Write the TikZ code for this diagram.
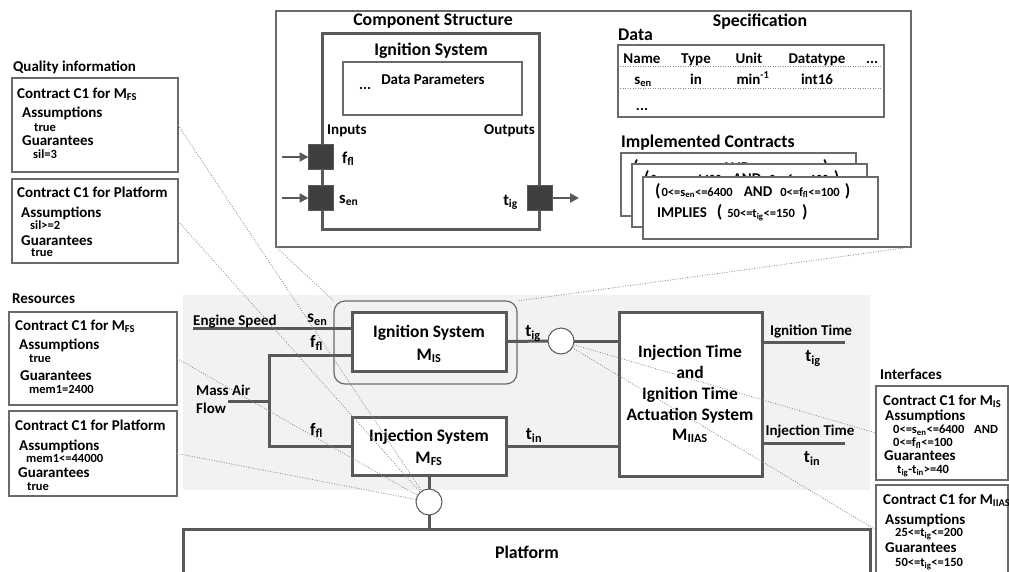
\documentclass[tikz,border=0pt]{standalone}
\usepackage{fontspec}
\setmainfont{Carlito}
\usetikzlibrary{arrows.meta}
\definecolor{dk}{HTML}{595959}
\definecolor{bx}{HTML}{6A6A6A}
\definecolor{bgc}{HTML}{F2F2F2}
\definecolor{dtc}{HTML}{8A8A8A}
\definecolor{portc}{HTML}{3F3F3F}
\newcommand\ctrlA{{\fontsize{17.5}{17.5}\selectfont(}\hspace{1pt}{\fontsize{12.5}{12.5}\selectfont 0<=s\textsubscript{en}<=6400}\hspace{11pt}AND\hspace{8pt}{\fontsize{12.5}{12.5}\selectfont 0<=f\textsubscript{fl}<=100}\hspace{5pt}{\fontsize{17.5}{17.5}\selectfont)}}
\newcommand\ctrlB{IMPLIES\hspace{10pt}{\fontsize{17.5}{17.5}\selectfont(}\hspace{5pt}{\fontsize{12.5}{12.5}\selectfont 50<=t\textsubscript{ig}<=150}\hspace{7pt}{\fontsize{17.5}{17.5}\selectfont)}}
\begin{document}
\begin{tikzpicture}[x=1pt,y=-1pt,
  lbl/.style={anchor=base west, inner sep=0pt, font=\fontsize{#1}{#1}\selectfont\bfseries},
  clbl/.style={anchor=base, inner sep=0pt, font=\fontsize{#1}{#1}\selectfont\bfseries},
  rlbl/.style={anchor=base east, inner sep=0pt, font=\fontsize{#1}{#1}\selectfont\bfseries},
  thinbox/.style={draw=bx, line width=1.3pt, fill=white, inner sep=0pt, outer sep=0pt, anchor=north west},
  thickbox/.style={draw=dk, line width=3pt, fill=white, inner sep=0pt, outer sep=0pt, anchor=north west},
  ring/.style={circle, draw=dk, line width=1pt, fill=white, minimum size=26pt, inner sep=0pt, outer sep=0pt},
  port/.style={fill=portc, draw=dk, line width=0.8pt, minimum size=25pt, inner sep=0pt, outer sep=0pt},
  wire/.style={draw=dk, line width=3pt},
  dots/.style={draw=dtc, line width=0.8pt, dash pattern=on 0.9pt off 1.6pt},
  arr/.style={draw=dk, line width=2.5pt, -{Triangle[length=9pt,width=9pt]}}
]
\useasboundingbox (0,0) rectangle (1009,571);
\clip (0,0) rectangle (1009,571);

% ---------- top: component structure and specification ----------
\node[thinbox, line width=1.5pt, minimum width=635pt, minimum height=236pt] (top) at (276,11) {};
\node[clbl=17.8] (cst) at (433,25) {Component Structure};
\node[thickbox, minimum width=217pt, minimum height=196pt] (comp) at (322,33) {};
\node[clbl=17.8] (cis) at (431,55) {Ignition System};
\node[thinbox, minimum width=179pt, minimum height=53pt] (dp) at (343,62) {};
\node[clbl=15] (dpt) at (433,84) {Data Parameters};
\node[lbl=15] (dpd) at (359,89) {...};
\node[lbl=15] (inp) at (327,134) {Inputs};
\node[rlbl=15] (outp) at (535,134) {Outputs};
\node[port] (pf) at (321,157) {};
\node[port] (ps) at (321,198) {};
\node[port] (pt) at (540,198) {};
\coordinate (af) at (282,157);
\coordinate (as) at (282,198);
\coordinate (ao) at (579,198);
\draw[arr] (af) -- (pf.west);
\draw[arr] (as) -- (ps.west);
\draw[arr] (pt.east) -- (ao);
\node[lbl=16.5] (lff) at (342,163) {f\textsubscript{fl}};
\node[lbl=16.5] (lse) at (339,203) {s\textsubscript{en}};
\node[rlbl=16.5] (lti) at (518,205) {t\textsubscript{ig}};

\node[clbl=17.8] (spt) at (760,26) {Specification};
\node[lbl=17.8] (dat) at (618,40) {Data};
\node[thinbox, minimum width=266pt, minimum height=72pt] (dtab) at (618,45) {};
\draw[dots] (620,66.7) -- (882,66.7);
\draw[dots] (620,88.3) -- (882,88.3);
\node[clbl=15] (h1) at (642,63) {Name};
\node[clbl=15] (h2) at (696,63) {Type};
\node[clbl=15] (h3) at (749,63) {Unit};
\node[clbl=15] (h4) at (817,63) {Datatype};
\node[clbl=15] (h5) at (872,63) {...};
\node[clbl=15] (v1) at (643,84) {s\textsubscript{en}};
\node[clbl=15] (v2) at (696,84) {in};
\node[clbl=15] (v3) at (753,84) {min\textsuperscript{-1}};
\node[clbl=15] (v4) at (817,84) {int16};
\node[clbl=15] (v5) at (642,110) {...};
\node[lbl=17.8] (imc) at (621,147) {Implemented Contracts};
\node[thinbox, minimum width=235pt, minimum height=63pt] (b1) at (621,153) {};
\node[lbl=15] (b1a) at ([shift={(12,19)}]b1.north west) {\ctrlA};
\node[thinbox, minimum width=235pt, minimum height=63pt] (b2) at (632,164) {};
\node[lbl=15] (b2a) at ([shift={(12,19)}]b2.north west) {\ctrlA};
\node[thinbox, minimum width=235pt, minimum height=62pt] (b3) at (643,177) {};
\node[lbl=15] (b3a) at ([shift={(12,19)}]b3.north west) {\ctrlA};
\node[lbl=15] (b3b) at ([shift={(14,40)}]b3.north west) {\ctrlB};

% ---------- left: quality information and resources ----------
\node[lbl=15] (qi) at (13,71) {Quality information};
\node[thinbox, minimum width=166pt, minimum height=94pt] (q1) at (12,78) {};
\node[lbl=15] (q1a) at (17,98) {Contract C1 for M\textsubscript{FS}};
\node[lbl=15] (q1b) at (22,117) {Assumptions};
\node[lbl=12.5] (q1c) at (34,131) {true};
\node[lbl=15] (q1d) at (22,145) {Guarantees};
\node[lbl=12.5] (q1e) at (33,158) {sil=3};

\node[thinbox, minimum width=166pt, minimum height=84pt] (q2) at (12,179) {};
\node[lbl=15] (q2a) at (17,197.7) {Contract C1 for Platform};
\node[lbl=15] (q2b) at (21,217) {Assumptions};
\node[lbl=12.5] (q2c) at (30,229) {sil>=2};
\node[lbl=15] (q2d) at (21,245.7) {Guarantees};
\node[lbl=12.5] (q2e) at (31,256.7) {true};

\node[lbl=15] (res) at (12,303) {Resources};
\node[thinbox, minimum width=168pt, minimum height=93pt] (r1) at (9,312) {};
\node[lbl=15] (r1a) at (15,330.7) {Contract C1 for M\textsubscript{FS}};
\node[lbl=15] (r1b) at (19,349.7) {Assumptions};
\node[lbl=12.5] (r1c) at (29,362.3) {true};
\node[lbl=15] (r1d) at (20,380) {Guarantees};
\node[lbl=12.5] (r1e) at (29,393.3) {mem1=2400};

\node[thinbox, minimum width=168pt, minimum height=85pt] (r2) at (9,411) {};
\node[lbl=15] (r2a) at (15,430.7) {Contract C1 for Platform};
\node[lbl=15] (r2b) at (19,450.7) {Assumptions};
\node[lbl=12.5] (r2c) at (26,462.7) {mem1<=44000};
\node[lbl=15] (r2d) at (18,477.3) {Guarantees};
\node[lbl=12.5] (r2e) at (27,490) {true};

% ---------- right: interfaces ----------
\node[lbl=15] (itf) at (880,379) {Interfaces};
\node[thinbox, minimum width=132pt, minimum height=94pt] (i1) at (876,386) {};
\node[lbl=15] (i1a) at (883,405.7) {Contract C1 for M\textsubscript{IS}};
\node[lbl=15] (i1b) at (885,420) {Assumptions};
\node[lbl=12.5] (i1c) at (893,433.3) {0<=s\textsubscript{en}<=6400};
\node[lbl=12.5] (i1d) at (974,433.3) {AND};
\node[lbl=12.5] (i1e) at (893,446.8) {0<=f\textsubscript{fl}<=100};
\node[lbl=15] (i1f) at (884,460.5) {Guarantees};
\node[lbl=12.5] (i1g) at (897,473.3) {t\textsubscript{ig}-t\textsubscript{in}>=40};

\node[thinbox, minimum width=132pt, minimum height=90pt] (i2) at (876,485) {};
\node[lbl=15] (i2a) at (883,504.7) {Contract C1 for M\textsubscript{IIAS}};
\node[lbl=15] (i2b) at (885,524.7) {Assumptions};
\node[lbl=12.5] (i2c) at (895,536.7) {25<=t\textsubscript{ig}<=200};
\node[lbl=15] (i2d) at (885,552.3) {Guarantees};
\node[lbl=12.5] (i2e) at (895,566) {50<=t\textsubscript{ig}<=150};

% ---------- middle: system ----------
\node[fill=bgc, anchor=north west, minimum width=687pt, minimum height=195pt, inner sep=0pt, outer sep=0pt] (bg) at (183,295) {};
\node[draw=bx, line width=1.2pt, rounded corners=11pt, anchor=north west, minimum width=183pt, minimum height=83pt, inner sep=0pt, outer sep=0pt] (hl) at (334,301) {};
\node[thickbox, minimum width=154pt, minimum height=59pt] (IS) at (352,312) {};
\node[thickbox, minimum width=154pt, minimum height=58pt] (FS) at (352,417) {};
\node[thickbox, minimum width=143pt, minimum height=164pt] (IIAS) at (619,312) {};
\node[thickbox, minimum width=687pt, minimum height=60pt] (plat) at (183,529) {};
\node[ring] (c1) at (561,341) {};
\node[ring] (c2) at (429,502) {};

\coordinate (es) at (193,328);
\coordinate (ffa) at (269,355);
\coordinate (maf) at (228,401);
\coordinate (igo) at (845,342);
\coordinate (ino) at (845,443);
\draw[wire] (es) -- (es -| IS.west);
\draw[wire] (IS.west |- ffa) -- (ffa) -- (ffa |- FS.west) -- (FS.west);
\draw[wire] (maf) -- (maf -| ffa);
\draw[wire] (IS.east) -- (c1.west);
\draw[wire] (c1.east) -- (c1.east -| IIAS.west);
\draw[wire] (FS.east) -- (FS.east -| IIAS.west);
\draw[wire] (igo -| IIAS.east) -- (igo);
\draw[wire] (ino -| IIAS.east) -- (ino);
\draw[wire] (FS.south) -- (c2.north);
\draw[wire] (c2.south) -- (c2.south |- plat.north);

\node[lbl=15] (les) at (193,325) {Engine Speed};
\node[lbl=17.5] (lsen) at (307,322.5) {s\textsubscript{en}};
\node[lbl=17.5] (lff1) at (310,347.5) {f\textsubscript{fl}};
\node[lbl=17.5] (lff2) at (310,435) {f\textsubscript{fl}};
\node[lbl=15] (lma1) at (196,395.7) {Mass Air};
\node[lbl=15] (lma2) at (196,413) {Flow};
\node[clbl=17.5] (ist1) at (429,337) {Ignition System};
\node[clbl=17.5] (ist2) at (429,360) {M\textsubscript{IS}};
\node[clbl=17.5] (fst1) at (429,441.7) {Injection System};
\node[clbl=17.5] (fst2) at (429,463) {M\textsubscript{FS}};
\node[clbl=17.5] (ltig) at (533,336.5) {t\textsubscript{ig}};
\node[clbl=17.5] (ltin) at (534,439.5) {t\textsubscript{in}};
\node[clbl=17.5] (ia1) at (690,357.3) {Injection Time};
\node[clbl=17.5] (ia2) at (690,378) {and};
\node[clbl=17.5] (ia3) at (690,399) {Ignition Time};
\node[clbl=17.5] (ia4) at (690,420) {Actuation System};
\node[clbl=17.5] (ia5) at (690,440) {M\textsubscript{IIAS}};
\node[clbl=15] (loi) at (811,335) {Ignition Time};
\node[clbl=17.5] (loti) at (813,361.7) {t\textsubscript{ig}};
\node[clbl=15] (lon) at (810,435.7) {Injection Time};
\node[clbl=17.5] (lotn) at (812,462.7) {t\textsubscript{in}};
\node[clbl=17.8] (lplat) at (527,558) {Platform};

% ---------- dotted relations ----------
\draw[dots] (top.south west) -- (hl.north west);
\draw[dots] (top.south east) -- (hl.north east);
\draw[dots] (q1.east) -- (c2);
\draw[dots] (q2.east) -- (c2);
\draw[dots] (r1.east) -- (c2);
\draw[dots] (r2.east) -- (c2);
\draw[dots] (c1) -- (i1.west);
\draw[dots] (c1) -- (i2.west);
\end{tikzpicture}
\end{document}
